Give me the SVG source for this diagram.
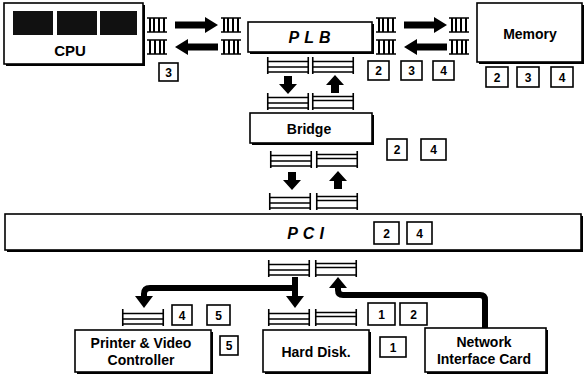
<svg xmlns="http://www.w3.org/2000/svg" xmlns:xlink="http://www.w3.org/1999/xlink" width="586" height="376" viewBox="0 0 586 376">
<style>
.bx{fill:#fff;stroke:#000;stroke-width:1.6}
.sh{fill:#000}
.t{font-family:"Liberation Sans",Arial,sans-serif;font-weight:bold;fill:#000;text-anchor:middle}
.lb{fill:#fff;stroke:#000;stroke-width:1.6}
.ln{font-family:"Liberation Sans",Arial,sans-serif;font-weight:bold;font-size:12px;fill:#000;text-anchor:middle}
.it{font-family:"Liberation Sans",Arial,sans-serif;font-style:italic;font-weight:bold;font-size:16px;letter-spacing:5px;fill:#000;text-anchor:middle}
.buf{fill:none;stroke:#000;stroke-width:1.6}
.vb{fill:none;stroke:#000;stroke-width:2}
.ar{fill:#000}
.wire{fill:none;stroke:#000;stroke-width:6;stroke-linejoin:round}
</style>
<defs>
<g id="hb"><path class="buf" d="M0.75 0V17M41.25 0V17M0.75 4.5H41.25M0.75 10H41.25M0.75 15H41.25"/></g>
<g id="hbf"><path class="buf" d="M0.75 0V17M41.25 0V17M0.75 3.5H41.25M0.75 7.5H41.25M0.75 15H41.25"/></g>
<g id="vbr"><path class="buf" d="M0 1H20M0 15H20"/><path class="vb" d="M3 1V15M8 1V15M13 1V15M17 1V15"/></g>
<g id="vbl"><path class="buf" d="M0 1H20M0 15H20"/><path class="vb" d="M3 1V15M7 1V15M12 1V15M17 1V15"/></g>
<polygon id="ard" points="-4,0 4,0 4,8 9,8 0,18 -9,8 -4,8"/>
<polygon id="aru" points="-4,18 4,18 4,10 9,10 0,0 -9,10 -4,10"/>
<polygon id="arr" points="0,-3.5 30,-3.5 30,-8 43,0 30,8 30,3.5 0,3.5"/>
<polygon id="arl" points="43,-3.5 13,-3.5 13,-8 0,0 13,8 13,3.5 43,3.5"/>
</defs>

<g id="cpu">
<rect class="sh" x="6" y="5" width="139" height="61"/>
<rect class="bx" x="4" y="3" width="139" height="61"/>
<rect x="13" y="11" width="40" height="24" fill="#111"/>
<rect x="57" y="11" width="40" height="24" fill="#111"/>
<rect x="100" y="11" width="37" height="24" fill="#111"/>
<text class="t" x="70" y="56" font-size="15">CPU</text>
</g>

<g id="plb">
<rect class="sh" x="250" y="24" width="124" height="30"/>
<rect class="bx" x="248" y="22" width="124" height="30"/>
<text class="it" x="312" y="43">PLB</text>
</g>

<g id="memory">
<rect class="sh" x="479" y="5" width="105" height="59"/>
<rect class="bx" x="477" y="3" width="105" height="59"/>
<text class="t" x="530" y="39" font-size="14">Memory</text>
</g>

<g id="bridge">
<rect class="sh" x="252" y="115" width="122" height="30"/>
<rect class="bx" x="250" y="113" width="122" height="30"/>
<text class="t" x="309" y="134" font-size="14">Bridge</text>
</g>

<g id="pci">
<rect class="sh" x="7" y="216" width="576" height="36"/>
<rect class="bx" x="5" y="214" width="576" height="36"/>
<text class="it" x="308" y="239">PCI</text>
</g>

<g id="printer">
<rect class="sh" x="77" y="332" width="136" height="42"/>
<rect class="bx" x="75" y="330" width="136" height="42"/>
<text class="t" x="141" y="348" font-size="14">Printer &amp; Video</text>
<text class="t" x="141" y="365" font-size="14">Controller</text>
</g>

<g id="harddisk">
<rect class="sh" x="265" y="332" width="106" height="42"/>
<rect class="bx" x="263" y="330" width="106" height="42"/>
<text class="t" x="316" y="357" font-size="14">Hard Disk.</text>
</g>

<g id="nic">
<rect class="sh" x="427" y="330" width="121" height="44"/>
<rect class="bx" x="425" y="328" width="121" height="44"/>
<text class="t" x="484" y="347" font-size="14">Network</text>
<text class="t" x="484" y="364" font-size="14">Interface Card</text>
</g>

<g id="buffers">
<use xlink:href="#vbl" x="147" y="17"/>
<use xlink:href="#vbr" x="147" y="39"/>
<use xlink:href="#vbl" x="221" y="17"/>
<use xlink:href="#vbr" x="221" y="39"/>
<use xlink:href="#vbl" x="376" y="17"/>
<use xlink:href="#vbr" x="376" y="39"/>
<use xlink:href="#vbl" x="449" y="17"/>
<use xlink:href="#vbr" x="449" y="39"/>
<use xlink:href="#hb" x="267" y="57"/>
<use xlink:href="#hb" x="312" y="57"/>
<use xlink:href="#hb" x="267" y="93"/>
<use xlink:href="#hbf" x="312" y="93"/>
<use xlink:href="#hb" x="270" y="151"/>
<use xlink:href="#hbf" x="316" y="151"/>
<use xlink:href="#hb" x="269" y="193"/>
<use xlink:href="#hbf" x="316" y="193"/>
<use xlink:href="#hb" x="268" y="260"/>
<use xlink:href="#hbf" x="315" y="260"/>
<use xlink:href="#hb" x="268" y="309"/>
<use xlink:href="#hbf" x="315" y="309"/>
<use xlink:href="#hb" x="122" y="309"/>
</g>

<g id="connectors">
<use xlink:href="#arr" x="175" y="25"/>
<use xlink:href="#arl" x="175" y="47"/>
<use xlink:href="#arr" x="404" y="25"/>
<use xlink:href="#arl" x="404" y="47"/>
<use xlink:href="#ard" x="288" y="76"/>
<use xlink:href="#aru" x="335" y="75"/>
<use xlink:href="#ard" x="292" y="172"/>
<use xlink:href="#aru" x="338" y="171"/>
<path class="wire" d="M295 277V298M295 288H150Q144 288 144 294V298"/>
<polygon class="ar" points="286,296 304,296 295,308"/>
<polygon class="ar" points="135,296 153,296 144,308"/>
<path class="wire" d="M485 328V300Q485 295 480 295H343Q338 295 338 290V286"/>
<polygon class="ar" points="329,288 347,288 338,277"/>
</g>

<g id="labels">
<rect class="lb" x="159" y="63" width="19" height="18"/><text class="ln" x="168.5" y="76.5">3</text>
<rect class="lb" x="368" y="61" width="21" height="19"/><text class="ln" x="378.5" y="75">2</text>
<rect class="lb" x="401" y="61" width="21" height="19"/><text class="ln" x="411.5" y="75">3</text>
<rect class="lb" x="433" y="61" width="21" height="19"/><text class="ln" x="443.5" y="75">4</text>
<rect class="lb" x="486" y="67" width="22" height="20"/><text class="ln" x="497" y="81.5">2</text>
<rect class="lb" x="517" y="67" width="22" height="20"/><text class="ln" x="528" y="81.5">3</text>
<rect class="lb" x="551" y="67" width="22" height="20"/><text class="ln" x="562" y="81.5">4</text>
<rect class="lb" x="387" y="139" width="20" height="21"/><text class="ln" x="397" y="154">2</text>
<rect class="lb" x="421" y="139" width="25" height="21"/><text class="ln" x="433.5" y="154">4</text>
<rect class="lb" x="374" y="222" width="25" height="22"/><text class="ln" x="386.5" y="237.5">2</text>
<rect class="lb" x="407" y="222" width="25" height="22"/><text class="ln" x="419.5" y="237.5">4</text>
<rect class="lb" x="172" y="305" width="20" height="20"/><text class="ln" x="182" y="319.5">4</text>
<rect class="lb" x="207" y="305" width="23" height="20"/><text class="ln" x="218.5" y="319.5">5</text>
<rect class="lb" x="220" y="336" width="18" height="19"/><text class="ln" x="229" y="350">5</text>
<rect class="lb" x="368" y="303" width="27" height="22"/><text class="ln" x="381.5" y="318.5">1</text>
<rect class="lb" x="400" y="303" width="27" height="22"/><text class="ln" x="413.5" y="318.5">2</text>
<rect class="lb" x="380" y="337" width="26" height="20"/><text class="ln" x="393" y="351.5">1</text>
</g>
</svg>
